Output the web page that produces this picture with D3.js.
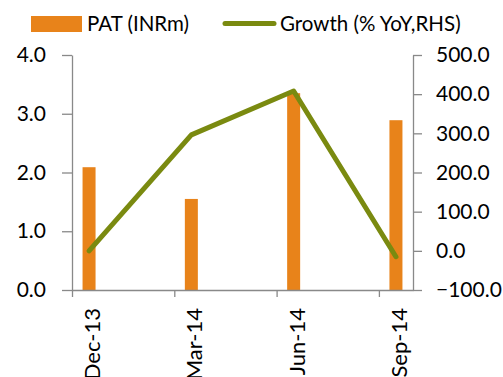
<!DOCTYPE html>
<html>
<head>
<meta charset="utf-8">
<script src="https://cdn.jsdelivr.net/npm/d3@7"></script>
<style>
  html, body { margin: 0; padding: 0; background: #fff; }
  svg text { font-family: Lato, "Open Sans", sans-serif; fill: #000; }
</style>
</head>
<body>
<svg id="chart" width="503" height="377"></svg>
<script>
// Quarterly profit after tax and YoY growth
const quarters = ["Dec-13", "Mar-14", "Jun-14", "Sep-14"];
const quarterMonth = [0.5, 3.5, 6.5, 9.5];   // month offset from Dec-13 (mid-month)
const patValues = [2.09, 1.55, 3.35, 2.89];   // INRm
const growthValues = [0, 296, 408, -15];     // % YoY
const leftTicks = [0, 1, 2, 3, 4];
const rightTicks = [-100, 0, 100, 200, 300, 400, 500];
const monthTicks = [0, 3, 6, 9];

const barColor = "#E8831A";
const lineColor = "#7A8A10";
const axisColor = "#898989";

const svg = d3.select("#chart");
const plot = { left: 72, right: 413, top: 55, bottom: 290 };

const x = d3.scaleLinear().domain([0, 10]).range([plot.left, plot.right]);
const yLeft = d3.scaleLinear().domain([0, 4]).range([plot.bottom, plot.top]);
const yRight = d3.scaleLinear().domain([-100, 500]).range([plot.bottom, plot.top]);

// bars
const barW = 13;
svg.append("g").selectAll("rect").data(patValues).join("rect")
  .attr("x", (d, i) => x(quarterMonth[i]) - barW / 2)
  .attr("y", d => yLeft(d))
  .attr("width", barW)
  .attr("height", d => yLeft(0) - yLeft(d))
  .attr("fill", barColor);

// growth line
const line = d3.line()
  .x((d, i) => x(quarterMonth[i]))
  .y(d => yRight(d));
svg.append("path").datum(growthValues)
  .attr("d", line)
  .attr("fill", "none")
  .attr("stroke", lineColor)
  .attr("stroke-width", 5)
  .attr("stroke-linecap", "round")
  .attr("stroke-linejoin", "round");

function styleAxis(g) {
  g.selectAll("path.domain").attr("stroke", axisColor).attr("stroke-width", 1.3);
  g.selectAll(".tick line").attr("stroke", axisColor).attr("stroke-width", 1.3);
  g.selectAll("text").attr("font-size", 21).attr("fill", "#000")
    .attr("font-family", "Lato, 'Open Sans', sans-serif");
}

// left axis
const gl = svg.append("g").attr("transform", `translate(${plot.left},0)`)
  .call(d3.axisLeft(yLeft).tickValues(leftTicks).tickFormat(d3.format(".1f"))
    .tickSizeInner(10).tickSizeOuter(0).tickPadding(16));
styleAxis(gl);

// right axis
const gr = svg.append("g").attr("transform", `translate(${plot.right},0)`)
  .call(d3.axisRight(yRight).tickValues(rightTicks).tickFormat(d3.format(".1f"))
    .tickSizeInner(9).tickSizeOuter(0).tickPadding(14));
styleAxis(gr);

// bottom axis: ticks on month boundaries, labels at quarter positions
const gb = svg.append("g").attr("transform", `translate(0,${plot.bottom})`)
  .call(d3.axisBottom(x).tickValues(monthTicks).tickFormat("")
    .tickSizeInner(7).tickSizeOuter(0));
styleAxis(gb);

svg.append("g").selectAll("text").data(quarters).join("text")
  .attr("transform", (d, i) => `translate(${x(quarterMonth[i]) + 11},308) rotate(-90)`)
  .attr("text-anchor", "end")
  .attr("font-size", 22)
  .text(d => d);

// legend
const lg = svg.append("g");
lg.append("rect").attr("x", 31).attr("y", 16).attr("width", 51).attr("height", 16).attr("fill", barColor);
lg.append("text").attr("x", 87).attr("y", 31).attr("font-size", 20.5).text("PAT (INRm)");
lg.append("line").attr("x1", 225).attr("x2", 274).attr("y1", 23.5).attr("y2", 23.5)
  .attr("stroke", lineColor).attr("stroke-width", 5).attr("stroke-linecap", "round");
lg.append("text").attr("x", 280).attr("y", 31).attr("font-size", 20.5).text("Growth (% YoY,RHS)");
</script>
</body>
</html>
